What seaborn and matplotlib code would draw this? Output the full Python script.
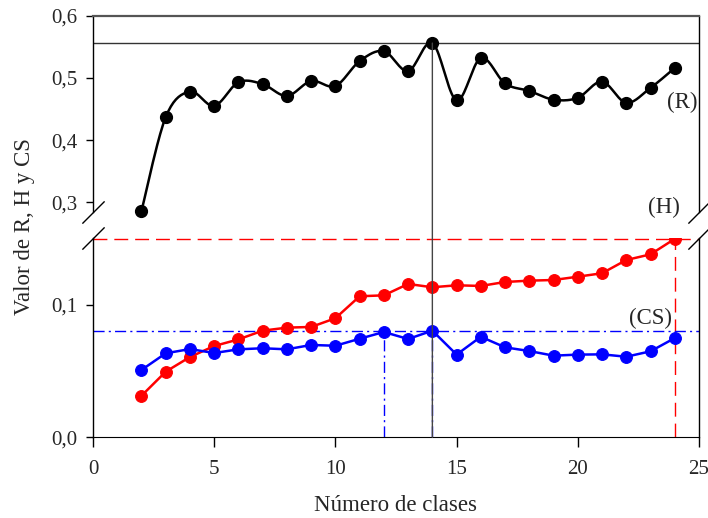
import numpy as np
import matplotlib
matplotlib.use("Agg")
import matplotlib.pyplot as plt
from matplotlib.patches import ConnectionPatch
from matplotlib.ticker import FuncFormatter
import seaborn as sns

# datos
clases = [2, 3, 4, 5, 6, 7, 8, 9, 10, 11, 12, 13, 14, 15, 16, 17, 18, 19, 20, 21, 22, 23, 24]
R = [0.286, 0.437, 0.478, 0.455, 0.493, 0.490, 0.471, 0.495, 0.487, 0.527, 0.543, 0.511,
     0.556, 0.464, 0.532, 0.491, 0.479, 0.465, 0.468, 0.494, 0.460, 0.484, 0.516]
H = [0.0314, 0.0496, 0.0607, 0.0690, 0.0740, 0.0806, 0.0829, 0.0834, 0.0900, 0.1066, 0.1073,
     0.1159, 0.1134, 0.1149, 0.1144, 0.1174, 0.1184, 0.1189, 0.1214, 0.1240, 0.1340, 0.1383, 0.1500]
CS = [0.0509, 0.0635, 0.0667, 0.0637, 0.0665, 0.0673, 0.0665, 0.0698, 0.0692, 0.0745, 0.0796,
      0.0743, 0.0806, 0.0625, 0.0760, 0.0680, 0.0652, 0.0617, 0.0625, 0.0627, 0.0609, 0.0650, 0.0750]


def catmull_rom(x, y, n=20):
    # curva suave que pasa por los puntos (como el spline del original)
    p = np.column_stack([x, y]).astype(float)
    p = np.vstack([p[0], p, p[-1]])
    t = np.linspace(0, 1, n)[:, None]
    out = []
    for i in range(1, len(p) - 2):
        p0, p1, p2, p3 = p[i - 1], p[i], p[i + 1], p[i + 2]
        seg = 0.5 * ((2 * p1) + (-p0 + p2) * t + (2 * p0 - 5 * p1 + 4 * p2 - p3) * t ** 2
                     + (-p0 + 3 * p1 - 3 * p2 + p3) * t ** 3)
        out.append(seg if i == 1 else seg[1:])
    out = np.vstack(out)
    return out[:, 0], out[:, 1]


sns.set_style("ticks")
plt.rcParams['font.family'] = ['Liberation Serif', 'DejaVu Serif']
plt.rcParams['mathtext.fontset'] = 'stix'

fig = plt.figure(figsize=(7.08, 5.18), dpi=100)
ax_top = fig.add_axes([93 / 708, 1 - 212 / 518, 606 / 708, (212 - 15.7) / 518])
ax_bot = fig.add_axes([93 / 708, 1 - 437.3 / 518, 606 / 708, (437.3 - 238.3) / 518])

r_max = max(R)
h_max = max(H)
cs_max = max(CS)
x_rmax = clases[R.index(r_max)]
x_hmax = clases[H.index(h_max)]
x_cs = [c for c, v in zip(clases, CS) if v >= 0.079]
y_cs = [v for v in CS if v >= 0.079]

# --- parte superior: R ---
xs, ys = catmull_rom(clases, R)
sns.lineplot(x=xs, y=ys, sort=False, estimator=None, color='black', lw=1.8, ax=ax_top)
ax_top.plot(clases, R, 'o', color='black', ms=8.5, clip_on=False, zorder=5)
ax_top.axhline(r_max, color='#333333', lw=1.0)
ax_top.set_xlim(0, 25)
ax_top.set_ylim(0.6 - (212 - 15.7) / 622, 0.6)
ax_top.set_yticks([0.3, 0.4, 0.5, 0.6])
ax_top.set_xticks([])
ax_top.spines['bottom'].set_visible(False)
ax_top.spines['top'].set_color('#555555')
ax_top.spines['top'].set_linewidth(1.6)
ax_top.text(24.3, 0.461, '(R)', ha='center', va='center', fontsize=16.5)
ax_top.text(23.55, 0.291, '(H)', ha='center', va='center', fontsize=16.5)

# --- parte inferior: H y CS ---
sns.lineplot(x=clases, y=H, color='red', lw=1.8, marker='o', markersize=8.5,
             markeredgecolor='red', ax=ax_bot, zorder=4)
sns.lineplot(x=clases, y=CS, color='blue', lw=1.8, marker='o', markersize=8.5,
             markeredgecolor='blue', ax=ax_bot, zorder=4)
ax_bot.axhline(h_max, color='red', lw=1.0, ls=(0, (10, 5)), zorder=2)
ax_bot.vlines(x_hmax, 0, h_max, color='red', lw=1.0, ls=(0, (10, 5)), zorder=2)
ax_bot.axhline(cs_max, color='blue', lw=1.0, ls=(0, (8, 3, 1.5, 3)), zorder=2)
ax_bot.vlines(x_cs, 0, y_cs, color='blue', lw=1.0, ls=(0, (8, 3, 1.5, 3)), zorder=2)
ax_bot.set_xlim(0, 25)
ax_bot.set_ylim(0, (437.3 - 238.3) / 1323)
ax_bot.set_yticks([0.0, 0.1])
ax_bot.set_xticks([0, 5, 10, 15, 20, 25])
ax_bot.spines['top'].set_visible(False)
ax_bot.text(23.0, 0.0902, '(CS)', ha='center', va='center', fontsize=16.5)
ax_bot.set_xlabel('Número de clases', fontsize=16.5, labelpad=12)

# linea vertical en el maximo de R, cruzando el corte
con = ConnectionPatch(xyA=(x_rmax, r_max), coordsA=ax_top.transData,
                      xyB=(x_rmax, 0), coordsB=ax_bot.transData,
                      color='#444444', lw=1.0, zorder=1)
fig.add_artist(con)

fmt = FuncFormatter(lambda v, p: f"{v:.1f}".replace('.', ','))
for ax in (ax_top, ax_bot):
    ax.yaxis.set_major_formatter(fmt)
    ax.tick_params(labelsize=15, length=5, width=1, color='black', pad=6)
    for s in ('left', 'right'):
        ax.spines[s].set_color('black')
        ax.spines[s].set_linewidth(1.0)
ax_bot.spines['bottom'].set_color('black')
ax_bot.tick_params(axis='x', length=7, pad=9)

# marcas de corte del eje
kw = dict(marker=[(-1, -1), (1, 1)], markersize=16, linestyle='none',
          color='black', mec='black', mew=1, clip_on=False)
ax_top.plot([0, 1], [0, 0], transform=ax_top.transAxes, **kw)
ax_bot.plot([0, 1], [1, 1], transform=ax_bot.transAxes, **kw)

fig.text(25 / 708, 1 - 227 / 518, 'Valor de R, H y CS', rotation=90,
         ha='center', va='center', fontsize=16.5)

fig.savefig('out.png', dpi=100)
